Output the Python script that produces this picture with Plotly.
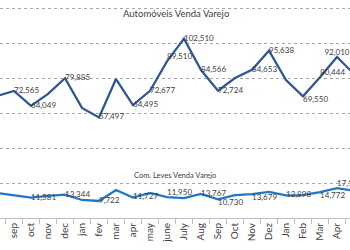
import plotly.graph_objects as go

months = ["aug", "sep", "oct", "nov", "dec", "jan", "fev", "mar", "apr", "may", "june",
          "July", "Aug", "Sep", "Oct", "Nov", "Dez", "Jan", "Feb", "Mar", "Apr", "May"]
# unique category keys (labels repeat across years)
cat_keys = [f"{i}_{m}" for i, m in enumerate(months)]

autos = [69700, 72565, 64049, 70900, 79885, 62900, 57497, 79400, 64495, 72677, 89510,
         102510, 84566, 72724, 80000, 84653, 95638, 78800, 69550, 80444, 92010, 82300]
autos_labeled = [False, True, True, False, True, False, True, False, True, True, True,
                 True, True, True, False, True, True, False, True, True, True, False]
autos_pos = ["middle right"] * 22
autos_pos[10] = "top right"
autos_pos[18] = "bottom right"
autos_pos[19] = "top right"
autos_pos[20] = "top center"

leves = [14300, 13100, 11581, 12600, 13344, 10300, 9722, 16000, 11727, 14300, 11950,
         11400, 13767, 10730, 13100, 13679, 14900, 12898, 13100, 14772, 17100, 15500]
leves_labeled = [False, False, True, False, True, False, True, False, True, False, True,
                 False, True, True, False, True, False, True, False, True, True, False]
leves_pos = ["middle right"] * 22
leves_pos[10] = "top right"
leves_pos[13] = "bottom right"
leves_pos[15] = "bottom right"
leves_pos[19] = "bottom right"
leves_pos[20] = "top right"

def fmt(v, show):
    return f"{v:,}" if show else ""

label_font = dict(family="Lato, Liberation Sans, sans-serif", size=8, color="#404040")

fig = go.Figure()
fig.add_trace(go.Scatter(
    x=cat_keys, y=autos, mode="lines+text",
    text=[fmt(v, s) for v, s in zip(autos, autos_labeled)],
    textposition=autos_pos, textfont=label_font,
    line=dict(color="#2E5597", width=2.25), cliponaxis=False, showlegend=False))
fig.add_trace(go.Scatter(
    x=cat_keys, y=leves, mode="lines+text",
    text=[fmt(v, s) for v, s in zip(leves, leves_labeled)],
    textposition=leves_pos, textfont=label_font,
    line=dict(color="#1F77C8", width=2.25), cliponaxis=False, showlegend=False))

fig.add_annotation(text="Automóveis Venda Varejo", xref="paper", yref="y",
                   x=0.503, y=117000, showarrow=False,
                   font=dict(family="Lato, Liberation Sans, sans-serif", size=9.5, color="#404040"))
fig.add_annotation(text="Com. Leves Venda Varejo", xref="paper", yref="y",
                   x=0.5, y=24200, showarrow=False,
                   font=dict(family="Lato, Liberation Sans, sans-serif", size=7.5, color="#404040"))

fig.update_layout(
    width=350, height=250,
    margin=dict(l=0, r=0, t=0, b=32),
    paper_bgcolor="white", plot_bgcolor="white",
)
fig.update_xaxes(
    type="category", range=[0.176, 20.765],
    tickmode="array", tickvals=cat_keys, ticktext=months,
    tickangle=-90, tickson="boundaries", ticks="outside", ticklen=5,
    tickcolor="#BFBFBF", showline=True, linecolor="#BFBFBF", linewidth=1,
    showgrid=False, tickfont=dict(family="Lato, Liberation Sans, sans-serif", size=10, color="#404040"),
)
fig.update_yaxes(
    range=[0, 124571], tickvals=[20000, 40000, 60000, 80000, 100000, 120000],
    showticklabels=False, showgrid=True, gridcolor="#A6A6A6", griddash="dot",
    gridwidth=1, zeroline=False, showline=False,
)
fig.write_html("out.html")
